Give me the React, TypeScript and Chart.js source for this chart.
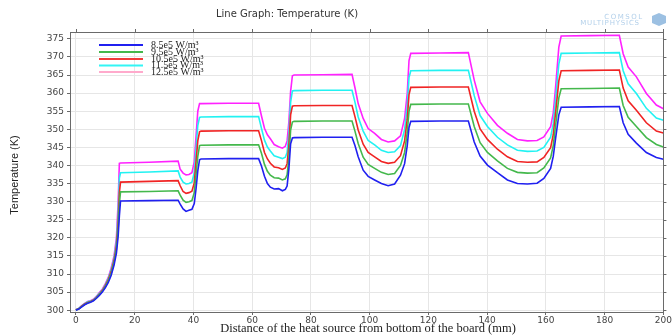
import React, { useEffect, useRef } from "react";
import { Chart, registerables } from "chart.js";

Chart.register(...registerables);

const TITLE = "Line Graph: Temperature (K)";
const X_TITLE = "Distance of the heat source from bottom of the board (mm)";
const Y_TITLE = "Temperature (K)";
const SERIES_NAMES = ["8.5e5 W/m³", "9.5e5 W/m³", "10.5e5 W/m³", "11.5e5 W/m³", "12.5e5 W/m³"];
const LINE_COLORS = ["#2020f0", "#44b84c", "#f02424", "#22f2f2", "#ff22ff"];
const LEGEND_COLORS = ["#2020f0", "#44b84c", "#f03a3a", "#33f5f5", "#ffaacc"];
const X_TICKS = [0, 20, 40, 60, 80, 100, 120, 140, 160, 180, 200];
const Y_TICKS = [300, 305, 310, 315, 320, 325, 330, 335, 340, 345, 350, 355, 360, 365, 370, 375];

const XS = [0, 1, 2, 3, 4, 5, 6, 7, 8, 9, 10, 11, 12, 13, 13.8, 14.4, 14.8, 15.2, 25, 34.8,
  35.5, 36.5, 37.5, 38.5, 39.5, 40.3, 40.9, 41.5, 42.1, 42.6, 52, 62.2,
  63.2, 64.2, 65.2, 66.2, 67.5, 69, 70.3, 71.3, 71.9, 72.5, 73.1, 73.7, 74.3, 84, 94,
  95, 96.1, 97.8, 99.5, 101.7, 104, 106.3, 108.5, 110.5, 111.9, 112.8, 113.4, 114, 124, 133.6,
  135.6, 137.6, 140.1, 143.5, 146.9, 150.3, 153.7, 157, 159.3, 161.6, 162.5, 163.3, 164.4, 165.2, 175, 185,
  186.3, 188, 190.8, 194.2, 197.6, 200];

const T_85 = [300.0, 300.3, 300.9, 301.5, 301.9, 302.2, 302.6, 303.3, 304.1, 305.0, 306.2, 307.6, 309.6, 312.5, 315.8, 320.5, 326.0, 330.2,
  330.3, 330.4, 329.3, 328.0, 327.3, 327.6, 327.9, 329.5, 333.5, 338.5, 341.6, 341.8, 341.9, 341.9,
  339.8, 337.0, 335.0, 334.0, 333.5, 333.6, 333.0, 333.4, 334.3, 339.0, 346.0, 347.6, 347.7, 347.8, 347.8,
  345.5, 342.4, 338.7, 337.0, 336.0, 335.0, 334.4, 334.9, 337.3, 340.5, 345.5, 350.5, 352.2, 352.3, 352.3,
  346.5, 342.6, 340.1, 338.0, 336.0, 335.0, 334.9, 335.1, 336.4, 339.2, 342.5, 347.5, 354.0, 356.1, 356.2, 356.3,
  351.8, 348.6, 346.2, 343.6, 342.2, 341.7];

const T_95 = [300.0, 300.4, 301.0, 301.6, 302.0, 302.3, 302.7, 303.4, 304.3, 305.2, 306.5, 308.0, 310.1, 313.2, 316.8, 322.5, 329.5, 332.7,
  332.8, 333.0, 331.8, 330.4, 329.8, 330.0, 330.3, 332.5, 337.5, 342.5, 345.5, 345.6, 345.7, 345.7,
  343.3, 340.3, 338.4, 337.3, 336.6, 336.5, 336.0, 336.3, 337.4, 342.0, 349.8, 352.0, 352.2, 352.3, 352.3,
  349.5, 346.1, 342.3, 340.3, 339.2, 338.1, 337.5, 337.8, 340.0, 343.6, 349.2, 355.0, 356.9, 357.0, 357.0,
  350.8, 346.3, 343.6, 341.3, 339.2, 338.1, 337.9, 338.0, 339.3, 342.1, 345.5, 351.1, 358.7, 361.2, 361.3, 361.4,
  356.6, 353.3, 350.8, 347.7, 345.8, 345.1];

const T_105 = [300.1, 300.4, 301.1, 301.7, 302.1, 302.4, 302.8, 303.5, 304.5, 305.4, 306.8, 308.4, 310.6, 313.8, 317.8, 324.5, 332.5, 335.4,
  335.6, 335.8, 334.4, 332.8, 332.3, 332.5, 332.9, 335.2, 341.0, 346.8, 349.3, 349.5, 349.6, 349.6,
  346.8, 343.6, 341.8, 340.6, 339.6, 339.4, 338.9, 339.3, 340.5, 345.5, 354.0, 356.4, 356.5, 356.6, 356.6,
  353.5, 349.8, 345.9, 343.6, 342.4, 341.1, 340.6, 340.9, 342.7, 346.8, 352.8, 359.6, 361.6, 361.7, 361.7,
  355.0, 350.1, 347.2, 344.5, 342.4, 341.1, 340.9, 341.0, 342.2, 344.9, 348.5, 354.6, 363.4, 366.2, 366.3, 366.4,
  361.4, 357.9, 355.3, 351.8, 349.5, 349.0];

const T_115 = [300.1, 300.5, 301.2, 301.8, 302.3, 302.5, 302.9, 303.7, 304.7, 305.6, 307.0, 308.7, 311.1, 314.4, 318.9, 327.0, 336.5, 338.0,
  338.2, 338.5, 336.8, 335.4, 334.9, 335.0, 335.4, 338.0, 344.5, 351.0, 353.3, 353.4, 353.5, 353.5,
  350.2, 347.0, 345.1, 344.0, 342.7, 342.3, 341.9, 342.3, 343.6, 348.8, 357.5, 360.6, 360.7, 360.8, 360.8,
  357.5, 353.4, 349.5, 346.9, 345.7, 344.2, 343.6, 343.8, 345.5, 349.9, 356.4, 364.3, 366.2, 366.3, 366.3,
  359.3, 353.8, 350.8, 347.8, 345.7, 344.2, 343.9, 344.0, 345.0, 347.8, 351.5, 358.2, 368.0, 371.0, 371.1, 371.2,
  366.2, 362.6, 359.9, 355.8, 353.1, 352.5];

const T_125 = [300.1, 300.5, 301.3, 301.9, 302.4, 302.6, 303.0, 303.8, 304.9, 305.8, 307.3, 309.0, 311.6, 315.0, 320.0, 330.0, 340.6, 340.7,
  340.9, 341.2, 339.0, 337.9, 337.4, 337.5, 338.0, 341.0, 348.0, 355.0, 357.1, 357.1, 357.2, 357.2,
  353.6, 350.3, 348.5, 347.4, 345.8, 345.2, 344.8, 345.3, 346.8, 352.0, 360.5, 364.8, 365.0, 365.1, 365.2,
  361.5, 357.1, 353.0, 350.2, 348.9, 347.2, 346.5, 346.8, 348.2, 353.0, 360.0, 369.0, 371.0, 371.1, 371.2,
  363.6, 357.6, 354.4, 351.1, 348.9, 347.2, 346.8, 346.9, 347.9, 350.7, 354.5, 361.7, 372.7, 375.8, 375.9, 376.0,
  370.9, 367.2, 364.5, 359.9, 356.7, 355.7];

const SERIES = [T_85, T_95, T_105, T_115, T_125];

const decor = {
  id: "decor",
  afterDraw(chart: any) {
    const { ctx, chartArea } = chart;
    const { left, right, top, bottom } = chartArea;
    const xs = chart.scales.x;
    const ys = chart.scales.y;
    ctx.save();
    // frame
    ctx.strokeStyle = "#6a6a6a";
    ctx.lineWidth = 1;
    ctx.strokeRect(Math.round(left) + 0.5, Math.round(top) + 0.5, Math.round(right - left), Math.round(bottom - top));
    // top and right ticks
    ctx.beginPath();
    X_TICKS.forEach((v) => {
      const px = Math.round(xs.getPixelForValue(v)) + 0.5;
      ctx.moveTo(px, top);
      ctx.lineTo(px, top - 3);
    });
    Y_TICKS.forEach((v) => {
      const py = Math.round(ys.getPixelForValue(v)) + 0.5;
      ctx.moveTo(right, py);
      ctx.lineTo(right + 3, py);
    });
    ctx.stroke();

    // title
    ctx.fillStyle = "#333";
    ctx.font = '10px "DejaVu Sans"';
    ctx.textAlign = "center";
    ctx.textBaseline = "middle";
    ctx.fillText(TITLE, 287, 14);

    // logo
    ctx.fillStyle = "#b3d0ea";
    (ctx as any).letterSpacing = "1.5px";
    ctx.font = '7px "DejaVu Sans"';
    ctx.fillText("COMSOL", 624, 17);
    (ctx as any).letterSpacing = "0.8px";
    ctx.fillText("MULTIPHYSICS", 610, 23);
    (ctx as any).letterSpacing = "0px";
    ctx.fillStyle = "#9cc0e2";
    ctx.beginPath();
    ctx.moveTo(659, 13);
    ctx.lineTo(666, 16);
    ctx.lineTo(666, 23);
    ctx.lineTo(659, 26);
    ctx.lineTo(652, 23);
    ctx.lineTo(652, 16);
    ctx.closePath();
    ctx.fill();

    // x title
    ctx.fillStyle = "#222";
    ctx.font = '12.5px "Liberation Serif"';
    ctx.fillText(X_TITLE, 368, 329);

    // y title
    ctx.save();
    ctx.translate(15, 175);
    ctx.rotate(-Math.PI / 2);
    ctx.font = '11px "Liberation Sans"';
    ctx.fillText(Y_TITLE, 0, 0);
    ctx.restore();

    // legend
    const ly = [45, 52, 59, 65.5, 72];
    ctx.textAlign = "left";
    ctx.font = '10px "Liberation Serif"';
    SERIES_NAMES.forEach((name, i) => {
      ctx.strokeStyle = LEGEND_COLORS[i];
      ctx.lineWidth = 2;
      ctx.beginPath();
      ctx.moveTo(99, ly[i]);
      ctx.lineTo(143, ly[i]);
      ctx.stroke();
      ctx.fillStyle = "#222";
      ctx.fillText(name, 151, ly[i]);
    });
    ctx.restore();
  },
};

export default function App() {
  const ref = useRef<HTMLCanvasElement | null>(null);
  useEffect(() => {
    if (!ref.current) return;
    const chart = new Chart(ref.current, {
      type: "line",
      data: {
        datasets: SERIES.map((s, i) => ({
          label: SERIES_NAMES[i],
          data: XS.map((x, j) => ({ x, y: s[j] })),
          borderColor: LINE_COLORS[i],
          backgroundColor: LINE_COLORS[i],
          borderWidth: 1.6,
          pointRadius: 0,
          tension: 0,
          fill: false,
        })),
      },
      options: {
        animation: false,
        responsive: false,
        devicePixelRatio: 1,
        layout: { padding: { top: 32, right: 5, left: 0, bottom: 0 } },
        plugins: { legend: { display: false }, tooltip: { enabled: false }, title: { display: false } },
        scales: {
          x: {
            type: "linear",
            min: -2,
            max: 200,
            afterBuildTicks: (scale: any) => {
              scale.ticks = X_TICKS.map((v) => ({ value: v }));
            },
            afterFit: (scale: any) => {
              scale.height = 24;
            },
            border: { display: false },
            grid: { color: "#e6e6e6", tickColor: "#6a6a6a", tickLength: 3, drawTicks: true },
            ticks: {
              color: "#444",
              font: { family: "DejaVu Sans", size: 9 },
              padding: 0,
              maxRotation: 0,
              autoSkip: false,
            },
          },
          y: {
            type: "linear",
            min: 299.5,
            max: 376.9,
            afterBuildTicks: (scale: any) => {
              scale.ticks = Y_TICKS.map((v) => ({ value: v }));
            },
            afterFit: (scale: any) => {
              scale.width = 70;
            },
            border: { display: false },
            grid: { color: "#e6e6e6", tickColor: "#6a6a6a", tickLength: 3, drawTicks: true },
            ticks: {
              color: "#444",
              font: { family: "DejaVu Sans", size: 9 },
              padding: 3,
              autoSkip: false,
            },
          },
        },
      },
      plugins: [decor],
    } as any);
    return () => chart.destroy();
  }, []);
  return (
    <div style={{ position: "fixed", left: 0, top: 0, width: 672, height: 336, background: "#fff" }}>
      <canvas ref={ref} width={672} height={336} style={{ display: "block", width: 672, height: 336 }} />
    </div>
  );
}
